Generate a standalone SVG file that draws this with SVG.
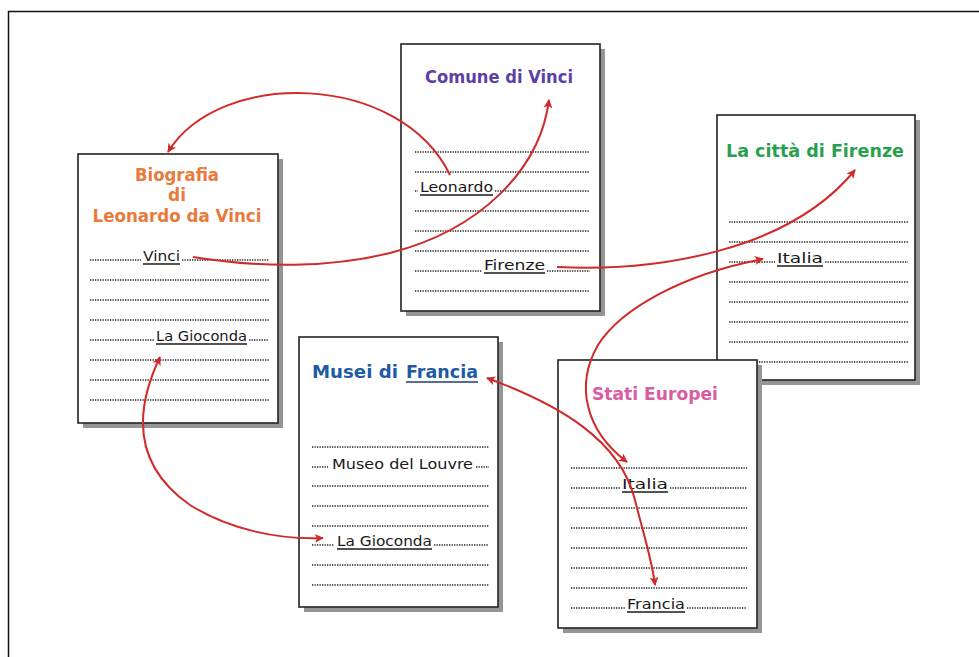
<svg xmlns="http://www.w3.org/2000/svg" width="979" height="657" viewBox="0 0 979 657">
<defs>
<style>
.shadow{fill:#959595}
.page{fill:#ffffff;stroke:#222;stroke-width:1.6}
.dots{stroke:#222;stroke-width:1.4;stroke-dasharray:1.3 1.2;fill:none}
.txt{font-family:"DejaVu Sans","Liberation Sans",sans-serif;font-size:14px;fill:#1a1a1a}
.ul{stroke:#1a1a1a;stroke-width:1.4}
.title{font-family:"DejaVu Sans","Liberation Sans",sans-serif;font-size:17px;font-weight:bold}
.link{fill:none;stroke:#d02a2a;stroke-width:2}
</style>
<marker id="ah" viewBox="0 0 10 10" refX="9" refY="5" markerWidth="11" markerHeight="9" markerUnits="userSpaceOnUse" orient="auto-start-reverse">
<path d="M0,0 L10,5 L0,10 L2.5,5 Z" fill="#d02a2a"/>
</marker>
</defs>
<rect width="979" height="657" fill="#ffffff"/>
<path d="M8.5,657 V11.5 H979" fill="none" stroke="#111" stroke-width="1.5"/>

<g id="biografia">
<rect class="shadow" x="83" y="159" width="200" height="269"/>
<rect class="page" x="78" y="154" width="200" height="269"/>
<g class="title" fill="#e87b3c" text-anchor="middle">
<text x="177" y="181" textLength="84" lengthAdjust="spacingAndGlyphs">Biografia</text>
<text x="177" y="201">di</text>
<text x="177" y="222" textLength="169" lengthAdjust="spacingAndGlyphs">Leonardo da Vinci</text>
</g>
<path class="dots" d="M90,260 H141 M182,260 H269 M90,280 H269 M90,300 H269 M90,320 H269 M90,340 H154 M249,340 H269 M90,360 H269 M90,380 H269 M90,400 H269"/>
<text class="txt" x="143" y="261" textLength="37" lengthAdjust="spacingAndGlyphs">Vinci</text>
<line class="ul" x1="143" y1="264" x2="180" y2="264"/>
<text class="txt" x="156" y="341" textLength="91" lengthAdjust="spacingAndGlyphs">La Gioconda</text>
<line class="ul" x1="156" y1="344" x2="247" y2="344"/>
</g>

<g id="comune">
<rect class="shadow" x="406" y="49" width="199" height="267"/>
<rect class="page" x="401" y="44" width="199" height="267"/>
<text class="title" fill="#5e3fa6" x="499" y="83" text-anchor="middle" textLength="148" lengthAdjust="spacingAndGlyphs">Comune di Vinci</text>
<path class="dots" d="M415,152 H590 M415,172 H590 M415,191 H418 M495,191 H590 M415,211 H590 M415,231 H590 M415,251 H590 M415,271 H482 M547,271 H590 M415,291 H590"/>
<text class="txt" x="420" y="192" textLength="73" lengthAdjust="spacingAndGlyphs">Leonardo</text>
<line class="ul" x1="420" y1="195" x2="493" y2="195"/>
<text class="txt" x="484" y="270" textLength="61" lengthAdjust="spacingAndGlyphs">Firenze</text>
<line class="ul" x1="484" y1="273" x2="545" y2="273"/>
</g>

<g id="firenze">
<rect class="shadow" x="722" y="120" width="198" height="265"/>
<rect class="page" x="717" y="115" width="198" height="265"/>
<text class="title" fill="#27a04f" x="815" y="157" text-anchor="middle" textLength="178" lengthAdjust="spacingAndGlyphs">La città di Firenze</text>
<path class="dots" d="M729,222 H908 M729,242 H908 M729,262 H775 M825,262 H908 M729,282 H908 M729,302 H908 M729,322 H908 M729,342 H908 M729,362 H908"/>
<text class="txt" x="777" y="263" textLength="46" lengthAdjust="spacingAndGlyphs">Italia</text>
<line class="ul" x1="777" y1="266" x2="823" y2="266"/>
</g>

<g id="musei">
<rect class="shadow" x="304" y="342" width="199" height="270"/>
<rect class="page" x="299" y="337" width="199" height="270"/>
<g class="title" fill="#1f5aa6">
<text x="312" y="378" textLength="86" lengthAdjust="spacingAndGlyphs">Musei di</text>
<text x="406" y="378" textLength="72" lengthAdjust="spacingAndGlyphs">Francia</text>
</g>
<line x1="406" y1="382" x2="478" y2="382" stroke="#1f3f70" stroke-width="1.5"/>
<path class="dots" d="M312,447 H489 M312,467 H328 M476,467 H489 M312,486 H489 M312,506 H489 M312,526 H489 M312,545 H334 M434,545 H489 M312,565 H489 M312,585 H489"/>
<text class="txt" x="332" y="469" textLength="141" lengthAdjust="spacingAndGlyphs">Museo del Louvre</text>
<text class="txt" x="337" y="546" textLength="95" lengthAdjust="spacingAndGlyphs">La Gioconda</text>
<line class="ul" x1="337" y1="549" x2="432" y2="549"/>
</g>

<g id="stati">
<rect class="shadow" x="563" y="365" width="199" height="268"/>
<rect class="page" x="558" y="360" width="199" height="268"/>
<text class="title" fill="#d95da3" x="655" y="400" text-anchor="middle" textLength="126" lengthAdjust="spacingAndGlyphs">Stati Europei</text>
<path class="dots" d="M571,468 H747 M571,488 H620 M670,488 H747 M571,508 H747 M571,528 H747 M571,548 H747 M571,568 H747 M571,588 H747 M571,608 H625 M687,608 H747"/>
<text class="txt" x="622" y="489" textLength="46" lengthAdjust="spacingAndGlyphs">Italia</text>
<line class="ul" x1="622" y1="492" x2="668" y2="492"/>
<text class="txt" x="627" y="609" textLength="58" lengthAdjust="spacingAndGlyphs">Francia</text>
<line class="ul" x1="627" y1="612" x2="685" y2="612"/>
</g>

<g id="connectors">
<path class="link" d="M450,175 C400,72 220,68 168,152" marker-end="url(#ah)"/>
<path class="link" d="M193,257 C260,268 330,268 390,253 C480,230 540,170 549,100" marker-end="url(#ah)"/>
<path class="link" d="M557,267 C660,272 790,250 855,170" marker-end="url(#ah)"/>
<path class="link" d="M763,259 C680,275 620,310 598,345 C575,385 585,430 627,462" marker-start="url(#ah)" marker-end="url(#ah)"/>
<path class="link" d="M487,378 C560,405 620,440 635,500 C645,540 652,560 655,585" marker-start="url(#ah)" marker-end="url(#ah)"/>
<path class="link" d="M160,357 C130,420 140,470 190,505 C230,530 280,540 323,538" marker-start="url(#ah)" marker-end="url(#ah)"/>
</g>
</svg>
